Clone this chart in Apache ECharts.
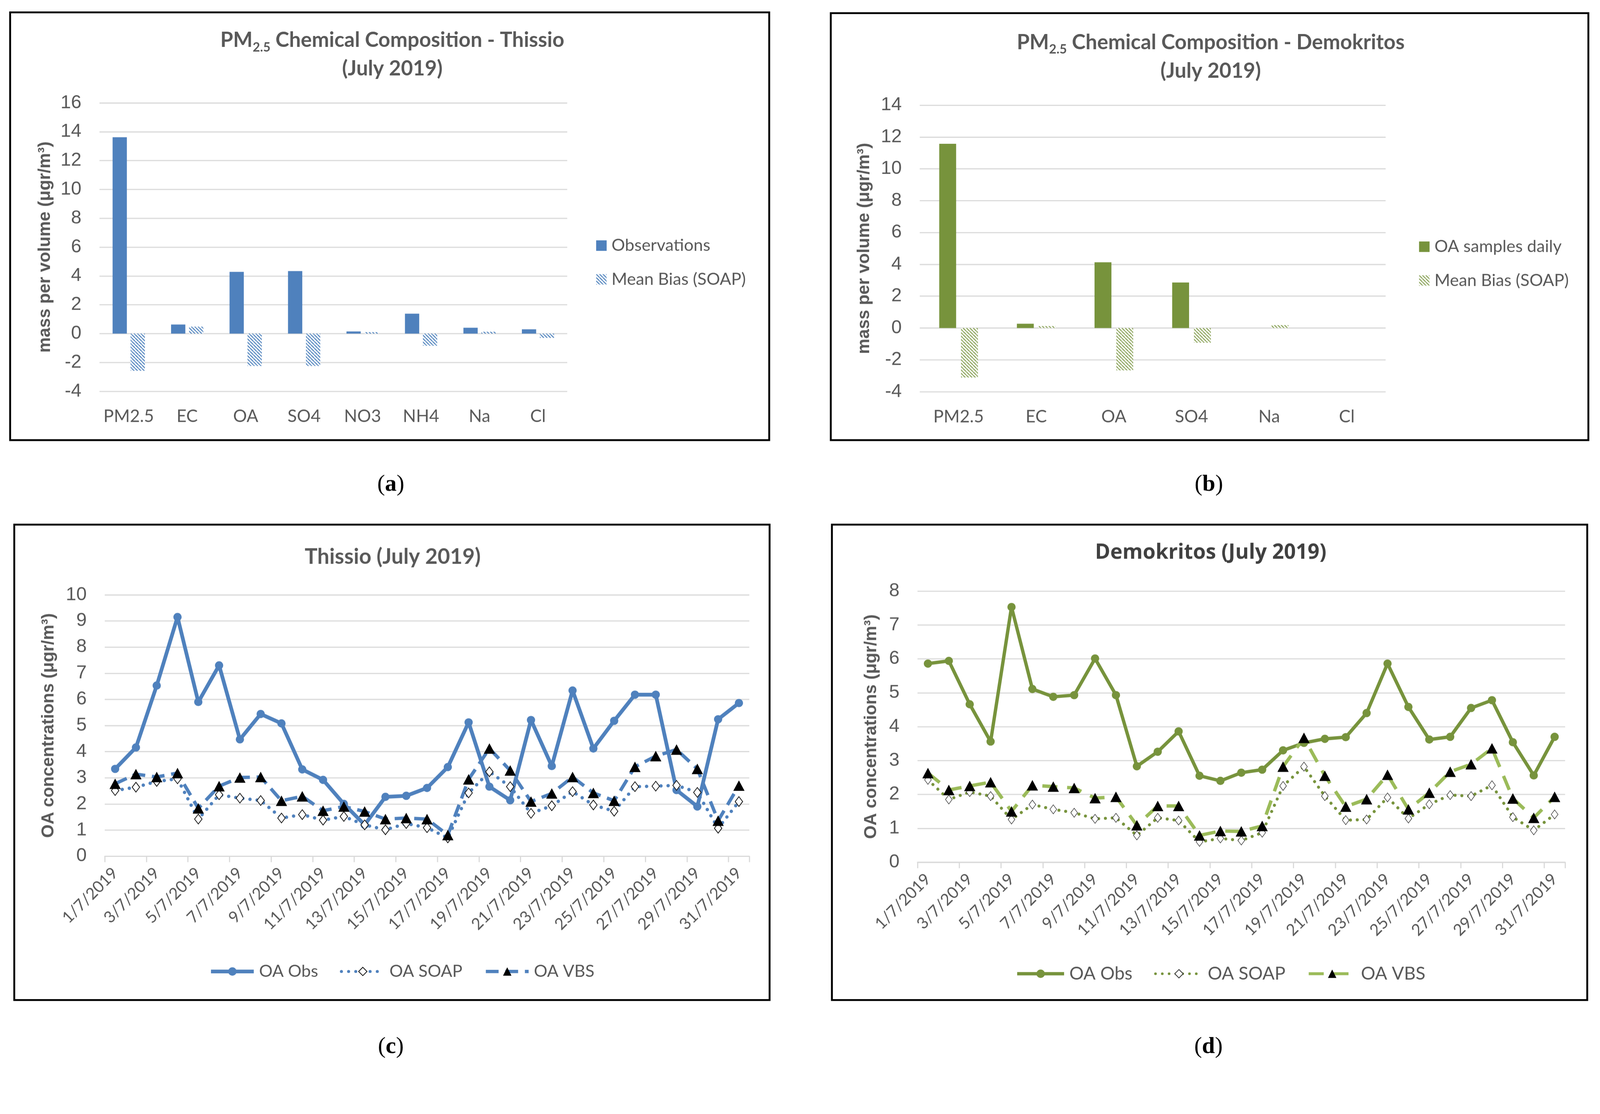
<!DOCTYPE html>
<html>
<head>
<meta charset="utf-8">
<title>PM2.5 / OA July 2019</title>
<script src="https://cdn.jsdelivr.net/npm/echarts@6/dist/echarts.min.js"></script>
<style>
html, body { margin: 0; padding: 0; background: #fff; overflow: hidden; }
#main { width: 4262px; height: 2852px; transform-origin: 0 0; }
</style>
</head>
<body>
<div id="main"></div>
<script>
/* ---- data ---- */
// (a) Thissio composition
var catsA = ['PM2.5', 'EC', 'OA', 'SO4', 'NO3', 'NH4', 'Na', 'Cl'];
var obsA = [13.62, 0.63, 4.28, 4.34, 0.15, 1.38, 0.41, 0.30];
var biasA = [-2.57, 0.48, -2.24, -2.24, 0.10, -0.84, 0.13, -0.30];

// (b) Demokritos composition
var catsB = ['PM2.5', 'EC', 'OA', 'SO4', 'Na', 'Cl'];
var obsB = [11.57, 0.27, 4.13, 2.86, 0, 0];
var biasB = [-3.11, 0.12, -2.66, -0.92, 0.18, 0];

// (c) Thissio daily OA
var obsC = [3.34, 4.16, 6.53, 9.15, 5.90, 7.30, 4.47, 5.44, 5.08, 3.32, 2.92, 2.00, 1.20, 2.27, 2.31, 2.61,
	3.41, 5.12, 2.66, 2.14, 5.21, 3.45, 6.34, 4.12, 5.18, 6.18, 6.18, 2.53, 1.90, 5.24, 5.86];
var soapC = [2.51, 2.64, 2.86, 2.96, 1.42, 2.35, 2.22, 2.13, 1.46, 1.59, 1.38, 1.52, 1.20, 1.01, 1.25, 1.09,
	0.70, 2.42, 3.23, 2.66, 1.64, 1.93, 2.47, 1.96, 1.72, 2.66, 2.68, 2.71, 2.44, 1.07, 2.09];
var vbsC = [2.77, 3.14, 3.03, 3.18, 1.83, 2.68, 3.01, 3.03, 2.12, 2.29, 1.74, 1.90, 1.71, 1.42, 1.46, 1.42,
	0.81, 2.94, 4.12, 3.28, 2.09, 2.40, 3.03, 2.42, 2.12, 3.42, 3.83, 4.08, 3.34, 1.36, 2.70];

// (d) Demokritos daily OA
var obsD = [5.86, 5.94, 4.66, 3.56, 7.53, 5.11, 4.88, 4.93, 6.01, 4.93, 2.83, 3.26, 3.86, 2.55, 2.40, 2.64,
	2.73, 3.30, 3.52, 3.64, 3.69, 4.40, 5.86, 4.58, 3.62, 3.70, 4.55, 4.78, 3.54, 2.56, 3.70];
var soapD = [2.43, 1.85, 2.07, 1.95, 1.26, 1.70, 1.56, 1.46, 1.28, 1.31, 0.79, 1.31, 1.23, 0.60, 0.70, 0.64,
	0.87, 2.25, 2.82, 1.95, 1.24, 1.26, 1.91, 1.29, 1.71, 1.98, 1.95, 2.27, 1.33, 0.94, 1.41];
var vbsD = [2.63, 2.13, 2.25, 2.36, 1.50, 2.27, 2.23, 2.19, 1.89, 1.93, 1.09, 1.66, 1.66, 0.79, 0.92, 0.91,
	1.07, 2.82, 3.67, 2.55, 1.64, 1.86, 2.58, 1.56, 2.05, 2.67, 2.89, 3.36, 1.88, 1.31, 1.93];

// dates 1/7/2019 .. 31/7/2019
var days = [];
for (var d = 1; d <= 31; d++) {
	days.push(d + '/7/2019');
}

/* ---- styles ---- */
var BLUE = '#4F81BD';
var GREEN = '#77933C';
var LGREEN = '#9BBB59';
var GRAY = '#595959';
var GRID_C = '#d9d9d9';
var NUM_FONT = 'Liberation Sans';
var TXT_FONT = 'Lato';

// diagonal hatch for the "Mean Bias" bars
function hatch(color) {
	var c = document.createElement('canvas');
	c.width = 9;
	c.height = 9;
	var g = c.getContext('2d');
	g.fillStyle = '#fff';
	g.fillRect(0, 0, 9, 9);
	g.strokeStyle = color;
	g.lineWidth = 2.4;
	for (var k = -9; k <= 9; k += 9) {
		g.beginPath();
		g.moveTo(k, 0);
		g.lineTo(k + 9, 9);
		g.stroke();
	}
	return { image: c, repeat: 'repeat' };
}

function valueAxis(grid, min, max, step, name, gap) {
	return {
		gridIndex: grid,
		type: 'value',
		min: min,
		max: max,
		interval: step,
		name: name,
		nameLocation: 'middle',
		nameRotate: 90,
		nameGap: gap,
		nameTextStyle: { fontFamily: NUM_FONT, fontWeight: 'bold', fontSize: 46, color: GRAY },
		axisLine: { show: false },
		axisTick: { show: false },
		axisLabel: { fontFamily: NUM_FONT, fontSize: 50, color: GRAY, margin: 48 },
		splitLine: { lineStyle: { color: GRID_C, width: 3 } }
	};
}

function barCatAxis(grid, cats) {
	return {
		gridIndex: grid,
		type: 'category',
		data: cats,
		axisLine: { show: false, onZero: false },
		axisTick: { show: false },
		axisLabel: { interval: 0, fontFamily: TXT_FONT, fontSize: 46, color: GRAY, margin: 44 }
	};
}

function dateAxis(grid) {
	return {
		gridIndex: grid,
		type: 'category',
		data: days,
		boundaryGap: true,
		axisLine: { onZero: false, lineStyle: { color: GRID_C, width: 3 } },
		axisTick: { show: true, interval: 1, length: 16, lineStyle: { color: GRID_C, width: 3 } },
		axisLabel: { interval: 1, rotate: 45, fontFamily: TXT_FONT, fontSize: 43, color: GRAY, margin: 38 }
	};
}

function titleRich(size, color, weight, font) {
	return {
		t: { fontFamily: font, fontWeight: weight, fontSize: size, color: color, lineHeight: 76 },
		s: { fontFamily: font, fontWeight: weight, fontSize: Math.round(size * 0.62), color: color,
			lineHeight: 76, verticalAlign: 'bottom', padding: [0, 0, 2, 0] }
	};
}

var strip = function (n) { return n.split('#')[0]; };

// the picture is laid out on a 4262 x 2852 board, scaled to whatever the window really is
var box = document.getElementById('main');
var s = Math.min(window.innerWidth / 4262, window.innerHeight / 2852) || 1;
box.style.transform = 'scale(' + s + ')';
var myChart = echarts.init(box, null, {
	renderer: 'canvas',
	devicePixelRatio: (window.devicePixelRatio || 1) * s
});

var option = {
	backgroundColor: '#fff',
	animation: false,
	title: [{
		text: '{t|PM}{s|2.5}{t| Chemical Composition - Thissio}\n{t|(July 2019)}',
		left: 1040, top: 64, textAlign: 'center',
		textStyle: { rich: titleRich(55, GRAY, 'bold', TXT_FONT) }
	}, {
		text: '{t|PM}{s|2.5}{t| Chemical Composition - Demokritos}\n{t|(July 2019)}',
		left: 3220, top: 70, textAlign: 'center',
		textStyle: { rich: titleRich(55, GRAY, 'bold', TXT_FONT) }
	}, {
		text: 'Thissio (July 2019)',
		left: 1041, top: 1450, textAlign: 'center',
		textStyle: { fontFamily: TXT_FONT, fontWeight: 'bold', fontSize: 57, color: GRAY }
	}, {
		text: 'Demokritos (July 2019)',
		left: 3220, top: 1440, textAlign: 'center',
		textStyle: { fontFamily: 'Open Sans', fontWeight: 'bold', fontSize: 55, color: '#404040' }
	}],
	legend: [{
		data: ['Observations', 'Mean Bias (SOAP)'],
		orient: 'vertical', left: 1583, top: 624,
		icon: 'rect', itemWidth: 28, itemHeight: 28, itemGap: 40,
		textStyle: { fontFamily: TXT_FONT, fontSize: 45, color: GRAY, lineHeight: 50, padding: [0, 0, 0, 8] }
	}, {
		data: ['OA samples daily', 'Mean Bias (SOAP)#b'],
		formatter: strip,
		orient: 'vertical', left: 3775, top: 627,
		icon: 'rect', itemWidth: 28, itemHeight: 28, itemGap: 40,
		textStyle: { fontFamily: TXT_FONT, fontSize: 45, color: GRAY, lineHeight: 50, padding: [0, 0, 0, 8] }
	}, {
		data: [
			{ name: 'OA Obs', lineStyle: { width: 10 } },
			{ name: 'OA SOAP', lineStyle: { width: 8 } },
			{ name: 'OA VBS', lineStyle: { width: 9 } }
		],
		left: 552, top: 2557,
		itemWidth: 114, itemHeight: 28, itemGap: 58,
		textStyle: { fontFamily: TXT_FONT, fontSize: 45, color: GRAY, lineHeight: 50, padding: [0, 0, 0, 9] }
	}, {
		data: [
			{ name: 'OA Obs#d', lineStyle: { width: 9 } },
			{ name: 'OA SOAP#d', lineStyle: { width: 7 } },
			{ name: 'OA VBS#d', lineStyle: { width: 8 } }
		],
		formatter: strip,
		left: 2700, top: 2562,
		itemWidth: 125, itemHeight: 28, itemGap: 58,
		textStyle: { fontFamily: TXT_FONT, fontSize: 48, color: GRAY, lineHeight: 52, padding: [0, 0, 0, 9] }
	}],
	grid: [
		{ left: 265, top: 274, width: 1246, height: 768 },
		{ left: 2450, top: 280, width: 1241, height: 763 },
		{ left: 279, top: 1584, width: 1717, height: 696 },
		{ left: 2444, top: 1574, width: 1725, height: 722 }
	],
	xAxis: [barCatAxis(0, catsA), barCatAxis(1, catsB), dateAxis(2), dateAxis(3)],
	yAxis: [
		valueAxis(0, -4, 16, 2, 'mass per volume (\u03bcgr/m\u00b3)', 122),
		valueAxis(1, -4, 14, 2, 'mass per volume (\u03bcgr/m\u00b3)', 124),
		valueAxis(2, 0, 10, 1, 'OA concentrations (\u03bcgr/m\u00b3)', 126),
		valueAxis(3, 0, 8, 1, 'OA concentrations (\u03bcgr/m\u00b3)', 100)
	],
	graphic: [],
	series: [
		// (a)
		{ name: 'Observations', type: 'bar', xAxisIndex: 0, yAxisIndex: 0, data: obsA,
			barWidth: 38, barGap: '26%', itemStyle: { color: BLUE } },
		{ name: 'Mean Bias (SOAP)', type: 'bar', xAxisIndex: 0, yAxisIndex: 0, data: biasA,
			barWidth: 38, barGap: '26%', itemStyle: { color: hatch('#3f78b8') } },
		// (b)
		{ name: 'OA samples daily', type: 'bar', xAxisIndex: 1, yAxisIndex: 1, data: obsB,
			barWidth: 45, barGap: '29%', itemStyle: { color: GREEN } },
		{ name: 'Mean Bias (SOAP)#b', type: 'bar', xAxisIndex: 1, yAxisIndex: 1, data: biasB,
			barWidth: 45, barGap: '29%', itemStyle: { color: hatch('#7f9a48') } },
		// (c)
		{ name: 'OA Obs', type: 'line', xAxisIndex: 2, yAxisIndex: 2, data: obsC,
			symbol: 'circle', symbolSize: 22,
			lineStyle: { color: BLUE, width: 10 }, itemStyle: { color: BLUE } },
		{ name: 'OA SOAP', type: 'line', xAxisIndex: 2, yAxisIndex: 2, data: soapC,
			symbol: 'diamond', symbolSize: [20, 26],
			lineStyle: { color: BLUE, width: 9, type: [0.1, 19], cap: 'round' },
			itemStyle: { color: '#fff', borderColor: '#111', borderWidth: 2 } },
		{ name: 'OA VBS', type: 'line', xAxisIndex: 2, yAxisIndex: 2, data: vbsC,
			symbol: 'triangle', symbolSize: [30, 28],
			lineStyle: { color: BLUE, width: 9, type: [34, 18] },
			itemStyle: { color: '#000' } },
		// (d)
		{ name: 'OA Obs#d', type: 'line', xAxisIndex: 3, yAxisIndex: 3, data: obsD,
			symbol: 'circle', symbolSize: 22,
			lineStyle: { color: GREEN, width: 9 }, itemStyle: { color: GREEN } },
		{ name: 'OA SOAP#d', type: 'line', xAxisIndex: 3, yAxisIndex: 3, data: soapD,
			symbol: 'diamond', symbolSize: [18, 24],
			lineStyle: { color: GREEN, width: 8, type: [0.1, 18], cap: 'round' },
			itemStyle: { color: '#fff', borderColor: '#333', borderWidth: 1.5 } },
		{ name: 'OA VBS#d', type: 'line', xAxisIndex: 3, yAxisIndex: 3, data: vbsD,
			symbol: 'triangle', symbolSize: [30, 28],
			lineStyle: { color: LGREEN, width: 9, type: [40, 26] },
			itemStyle: { color: '#000' } }
	]
};

/* panel frames and (a)..(d) captions */
var frames = [
	[27, 33, 2022, 1139],
	[2213, 35, 2018, 1137],
	[38, 1397, 2012, 1266],
	[2216, 1397, 2012, 1266]
];
frames.forEach(function (f) {
	option.graphic.push({
		type: 'rect', silent: true, z: 100,
		shape: { x: f[0], y: f[1], width: f[2], height: f[3] },
		style: { fill: 'none', stroke: '#000', lineWidth: 5 }
	});
});
var captions = [['a', 1041, 1291], ['b', 3220, 1291], ['c', 1041, 2788], ['d', 3219, 2788]];
captions.forEach(function (c) {
	option.graphic.push({
		type: 'text', silent: true,
		x: c[1], y: c[2],
		style: {
			text: '{p|(}{b|' + c[0] + '}{p|)}',
			align: 'center', verticalAlign: 'middle',
			rich: {
				p: { fontFamily: 'Liberation Serif', fontSize: 62, fill: '#000' },
				b: { fontFamily: 'Liberation Serif', fontSize: 62, fontWeight: 'bold', fill: '#000' }
			}
		}
	});
});

myChart.setOption(option);

window.onresize = function () {
	myChart.resize();
};
</script>
</body>
</html>
